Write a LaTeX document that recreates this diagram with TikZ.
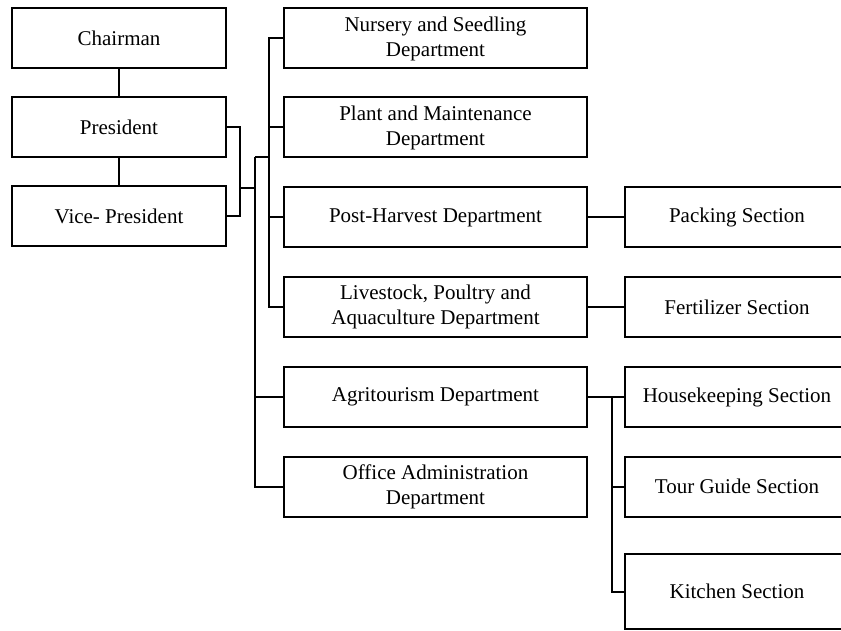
\documentclass[tikz,border=0pt]{standalone}
\usepackage{fontspec}
\setmainfont{Liberation Serif}
\usepackage{tikz}
\usetikzlibrary{calc}

\begin{document}
\begin{tikzpicture}[x=1pt, y=-1pt]
      \tikzstyle{box}=[draw, line width=2pt, inner sep=0pt, align=center,
        font=\fontsize{21}{25}\selectfont];
      \tikzstyle{head}=[box, minimum width=214pt, minimum height=60pt];
      \tikzstyle{dept}=[box, minimum width=303pt, minimum height=60pt];
      \tikzstyle{sect}=[box, minimum width=224pt, minimum height=60pt];
      \tikzstyle{link}=[line width=2pt];

      \clip (0, 0) rectangle (841, 631);

      % top management
      \node[head] (chair) at (119, 38.5) {Chairman};
      \node[head] (pres) at (119, 127.5) {President};
      \node[head] (vice) at (119, 216.5) {Vice- President};

      % departments
      \node[dept] (nurs) at (435.5, 38.5) {Nursery and Seedling\\Department};
      \node[dept] (plant) at (435.5, 127.5) {Plant and Maintenance\\Department};
      \node[dept] (post) at (435.5, 217.5) {Post-Harvest Department};
      \node[dept] (live) at (435.5, 307) {Livestock, Poultry and\\Aquaculture Department};
      \node[dept] (agri) at (435.5, 397) {Agritourism Department};
      \node[dept] (office) at (435.5, 486.5) {Office Administration\\Department};

      % sections
      \node[sect] (pack) at (737, 217.5) {Packing Section};
      \node[sect] (fert) at (737, 307) {Fertilizer Section};
      \node[sect] (house) at (737, 397) {Housekeeping Section};
      \node[sect] (tour) at (737, 486.5) {Tour Guide Section};
      \node[sect, minimum height=75pt] (kitchen) at (737, 591.5) {Kitchen Section};

      \coordinate (pv) at (240, 188);
      \coordinate (busA) at (255, 157);
      \coordinate (busB) at (269, 157);
      \coordinate (busC) at (612, 397);

      \draw[link] (chair) -- (pres);
      \draw[link] (pres) -- (vice);
      \draw[link] (pres.east) -- (pres.east -| pv) |- (vice.east);
      \draw[link] (pv) -- (pv -| busA);

      \draw[link] (busA) -- (busB);
      \draw[link] (nurs.west) -- (nurs.west -| busB) |- (live.west);
      \draw[link] (plant.west) -- (plant.west -| busB);
      \draw[link] (post.west) -- (post.west -| busB);
      \draw[link] (busA) |- (office.west);
      \draw[link] (agri.west) -- (agri.west -| busA);

      \draw[link] (post.east) -- (pack.west);
      \draw[link] (live.east) -- (fert.west);
      \draw[link] (agri.east) -- (house.west);
      \draw[link] (busC) |- (kitchen.west);
      \draw[link] (tour.west) -- (tour.west -| busC);
    \end{tikzpicture}
\end{document}
